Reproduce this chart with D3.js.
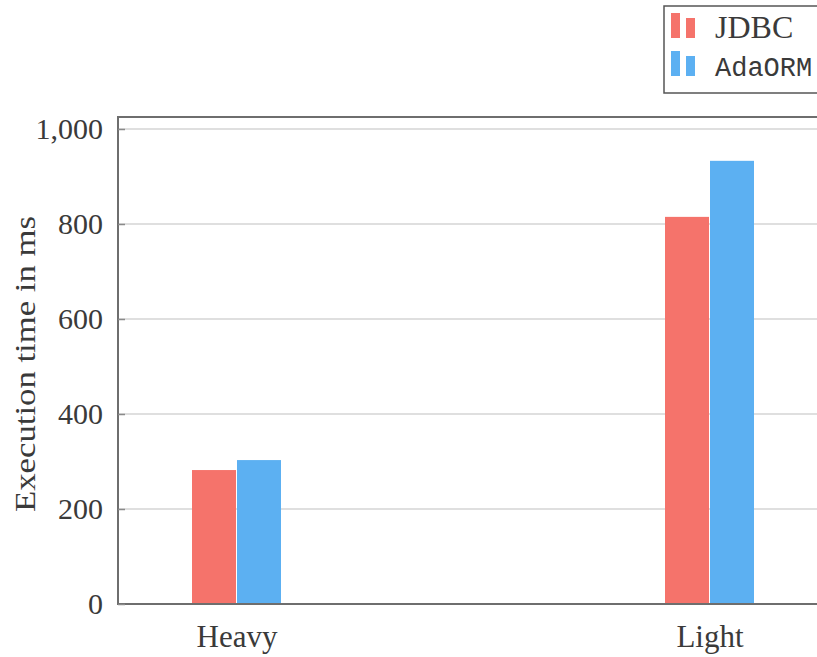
<!DOCTYPE html>
<html><head><meta charset="utf-8">
<script src="https://cdn.jsdelivr.net/npm/d3@7"></script>
<style>body{margin:0;background:#fff}svg{display:block}</style>
</head><body>
<script>
const categories = ["Heavy", "Light"];
const seriesNames = ["JDBC", "AdaORM"];
const jdbc = [282, 815];
const adaorm = [303, 933];
const yTicks = [0, 200, 400, 600, 800, 1000];
const colors = ["#f5736b", "#5cb0f2"];

(function(){
const W = 817, H = 657;
const svg = d3.select("body").append("svg").attr("width", W).attr("height", H);

const pl = 118, pr = 828, pt = 117, pb = 604;
const x = d3.scalePoint().domain(categories).range([236.5, 709.5]);
const y = d3.scaleLinear().domain([0, 1000]).range([pb, 129]);
const serif = "'Liberation Serif','DejaVu Serif',serif";
const textCol = "#3a3a3a";

// grid
svg.append("g").selectAll("line").data(yTicks.filter(d=>d>0)).join("line")
  .attr("x1", pl).attr("x2", pr).attr("y1", d=>y(d)).attr("y2", d=>y(d))
  .attr("stroke", "#d4d4d4").attr("stroke-width", 1.5);

// bars
const bw = 44;
const series = [jdbc, adaorm];
series.forEach((vals, si) => {
  svg.append("g").selectAll("rect").data(vals).join("rect")
    .attr("x", (d,i) => x(categories[i]) + (si === 0 ? -bw - 0.5 : 0.5))
    .attr("width", bw)
    .attr("y", d => y(d))
    .attr("height", d => pb - y(d))
    .attr("fill", colors[si]);
});

// frame
svg.append("rect").attr("x", pl).attr("y", pt).attr("width", pr-pl).attr("height", pb-pt)
  .attr("fill", "none").attr("stroke", "#6e6e6e").attr("stroke-width", 2);

// y axis ticks inside
const yAxis = d3.axisLeft(y).tickValues(yTicks).tickSize(-7).tickPadding(15)
  .tickFormat(d3.format(","));
const gy = svg.append("g").attr("transform", `translate(${pl},0)`).call(yAxis);
gy.select(".domain").remove();
gy.selectAll(".tick line").attr("stroke", "#8a8a8a").attr("stroke-width", 1.5);
gy.selectAll(".tick text").attr("font-family", serif).attr("font-size", 30)
  .attr("fill", textCol).attr("dy", "0.33em");

// x axis labels
const xAxis = d3.axisBottom(x).tickSize(0).tickPadding(21);
const gx = svg.append("g").attr("transform", `translate(0,${pb})`).call(xAxis);
gx.select(".domain").remove();
gx.selectAll(".tick text").attr("font-family", serif).attr("font-size", 31).attr("fill", textCol);

// y label
svg.append("text").attr("transform", `translate(35,${364}) rotate(-90)`)
  .attr("text-anchor", "middle").attr("font-family", serif).attr("font-size", 30)
  .attr("textLength", 296).attr("lengthAdjust", "spacingAndGlyphs")
  .attr("fill", textCol).text("Execution time in ms");

// legend
const lg = svg.append("g");
lg.append("rect").attr("x", 664).attr("y", 6).attr("width", 170).attr("height", 87)
  .attr("fill", "#fff").attr("stroke", "#555").attr("stroke-width", 1.5);
const fonts = [serif, "'Liberation Mono','DejaVu Sans Mono',monospace"];
seriesNames.forEach((name, i) => {
  const by = 38 + i * 38;
  lg.append("rect").attr("x", 671).attr("y", by - 25).attr("width", 9).attr("height", 25).attr("fill", colors[i]);
  lg.append("rect").attr("x", 686).attr("y", by - 20).attr("width", 9).attr("height", 20).attr("fill", colors[i]);
  lg.append("text").attr("x", 715).attr("y", by).attr("font-family", fonts[i])
    .attr("font-size", i === 0 ? 32 : 27).attr("fill", textCol).text(name);
});
})();
</script>
</body></html>
